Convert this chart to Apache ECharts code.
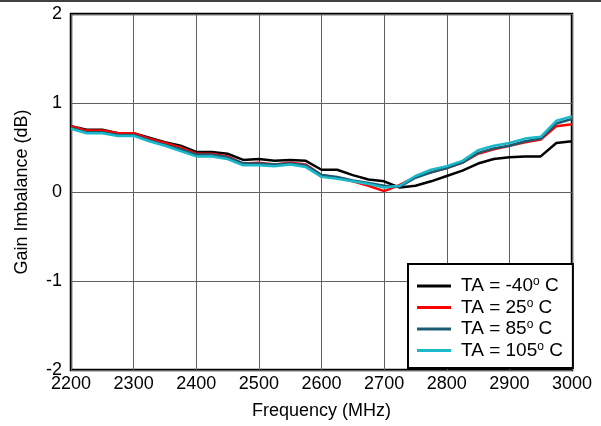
<!DOCTYPE html>
<html><head><meta charset="utf-8">
<script src="https://cdn.jsdelivr.net/npm/echarts@6/dist/echarts.min.js"></script>
<style>html,body{margin:0;padding:0;background:#fff}#c{width:601px;height:426px}</style>
</head><body><div id="c"></div>
<script>
const freqs = [2200,2225,2250,2275,2300,2325,2350,2375,2400,2425,2450,2475,2500,2525,2550,2575,2600,2625,2650,2675,2700,2725,2750,2775,2800,2825,2850,2875,2900,2925,2950,2975,3000];
const tempLabels = ['-40','25','85','105'];
const gainM40 = [0.74,0.70,0.70,0.66,0.66,0.61,0.56,0.52,0.45,0.45,0.43,0.36,0.37,0.35,0.36,0.35,0.25,0.25,0.19,0.14,0.12,0.05,0.07,0.12,0.18,0.24,0.32,0.37,0.39,0.40,0.40,0.55,0.57];
const gain25 = [0.74,0.69,0.69,0.66,0.66,0.60,0.55,0.50,0.43,0.43,0.40,0.32,0.33,0.31,0.33,0.31,0.19,0.16,0.12,0.07,0.01,0.08,0.17,0.22,0.27,0.33,0.43,0.48,0.52,0.56,0.59,0.74,0.76];
const gain85 = [0.72,0.67,0.67,0.64,0.64,0.58,0.53,0.48,0.42,0.42,0.39,0.32,0.32,0.31,0.32,0.30,0.19,0.17,0.13,0.10,0.07,0.06,0.16,0.22,0.27,0.33,0.44,0.49,0.52,0.57,0.60,0.77,0.82];
const gain105 = [0.71,0.66,0.66,0.63,0.63,0.57,0.52,0.46,0.40,0.40,0.37,0.30,0.30,0.29,0.31,0.28,0.17,0.15,0.12,0.09,0.05,0.07,0.18,0.25,0.29,0.35,0.47,0.52,0.55,0.60,0.62,0.80,0.85];
const colors = ['#000000','#ff0000','#1c5c72','#1ab8c8'];
const allGain = [gainM40, gain25, gain85, gain105];

const chart = echarts.init(document.getElementById('c'), null, {renderer:'canvas'});
const font = 'Liberation Sans, Arial, Helvetica, sans-serif';
const series = tempLabels.map((t,i)=>({
  name: t,
  type: 'line',
  data: freqs.map((f,j)=>[f, allGain[i][j]]),
  showSymbol: false,
  lineStyle: {color: colors[i], width: 2.5},
  itemStyle: {color: colors[i]},
  z: 2 + i
}));
chart.setOption({
  animation: false,
  textStyle: {fontFamily: font},
  grid: {left: 71, right: 29, top: 14, bottom: 56, show: true, borderColor: '#000', borderWidth: 2.5, backgroundColor: 'transparent'},
  xAxis: {
    type: 'value', min: 2200, max: 3000, interval: 100,
    name: 'Frequency (MHz)', nameLocation: 'middle', nameGap: 32,
    nameTextStyle: {fontSize: 18, color: '#000', fontFamily: font},
    axisLine: {show: false}, axisTick: {show: false},
    axisLabel: {fontSize: 18, color: '#000', margin: 5, fontFamily: font, formatter: v => String(v)},
    splitLine: {show: true, lineStyle: {color: '#606060', width: 1}}
  },
  yAxis: {
    type: 'value', min: -2, max: 2, interval: 1,
    name: 'Gain Imbalance (dB)', nameLocation: 'middle', nameGap: 40,
    nameTextStyle: {fontSize: 18, color: '#000', fontFamily: font},
    axisLine: {show: false}, axisTick: {show: false},
    axisLabel: {fontSize: 18, color: '#000', margin: 9, fontFamily: font, formatter: v => String(v)},
    splitLine: {show: true, lineStyle: {color: '#606060', width: 1}}
  },
  legend: {
    orient: 'vertical', left: 408, top: 264,
    padding: [12, 10, 8, 9],
    backgroundColor: '#fff', borderColor: '#000', borderWidth: 2,
    itemWidth: 34, itemHeight: 3, itemGap: 2,
    icon: 'rect',
    data: tempLabels,
    formatter: n => '{a|TA = ' + n + '}{s|o}{b| C}',
    textStyle: {
      color: '#000', fontFamily: font,
      rich: {
        a: {fontSize: 19, color: '#000', fontFamily: font, height: 18, padding: [0,0,0,5]},
        b: {fontSize: 19, color: '#000', fontFamily: font, height: 18},
        s: {fontSize: 12, color: '#000', fontFamily: font, verticalAlign: 'top', padding: [0,0,8,0], height: 18}
      }
    }
  },
  graphic: [{type: 'line', shape: {x1: 0, y1: 1, x2: 601, y2: 1}, style: {stroke: '#000', lineWidth: 1.5}}],
  series: series
});
</script></body></html>
